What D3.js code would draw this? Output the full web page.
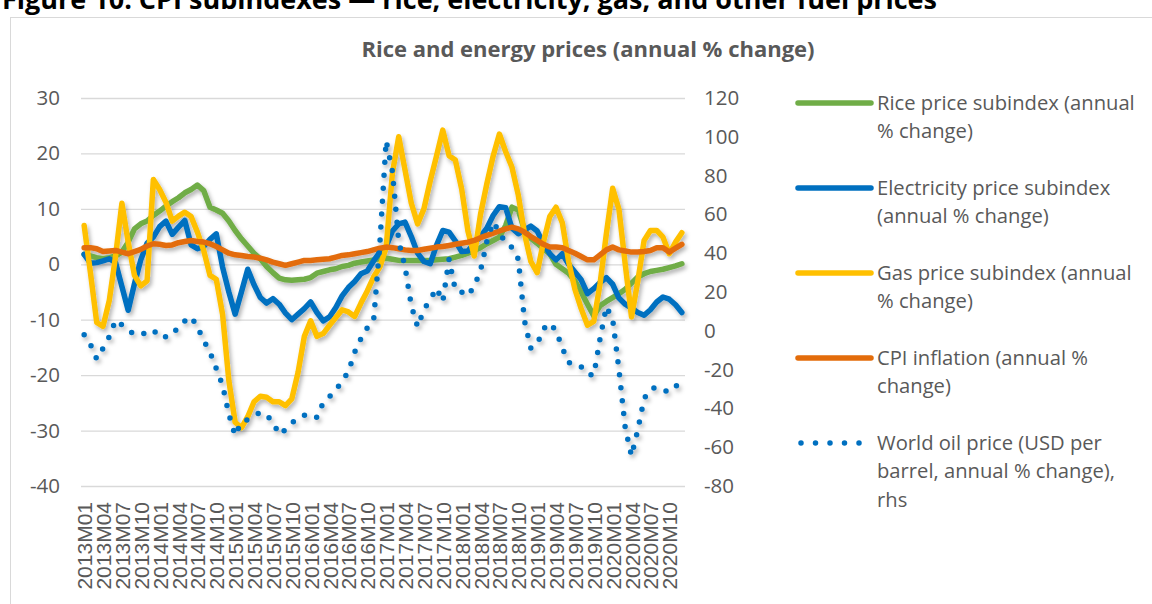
<!DOCTYPE html>
<html>
<head>
<meta charset="utf-8">
<script src="https://cdnjs.cloudflare.com/ajax/libs/d3/7.8.5/d3.min.js"></script>
<style>
  body { margin: 0; background: #fff; }
  text { font-family: "Open Sans", Lato, sans-serif; }
</style>
</head>
<body>
<div id="chart"></div>
<script>

// monthly categories 2013M01 .. 2020M12
const months = d3.range(96).map(i => (2013 + Math.floor(i / 12)) + "M" + String(i % 12 + 1).padStart(2, "0"));

// annual % change, left axis
const rice = [
  1.8, 1.5, 1.2, 1, 1.2, 1.5, 2.2, 4, 6.4, 7.3, 7.8, 8.8,
  9.6, 10.5, 11.3, 12, 12.9, 13.5, 14.3, 13.3, 10.3, 9.8, 9.2, 7.8,
  6.1, 4.6, 3.3, 2, 1, -0.4, -1.5, -2.5, -2.8, -2.9, -2.8, -2.7,
  -2.4, -1.6, -1.3, -1, -0.8, -0.4, -0.2, 0.2, 0.4, 0.6, 0.8, 1,
  1.1, 0.9, 0.7, 0.7, 0.7, 0.7, 0.7, 0.7, 0.8, 0.9, 1, 1.3,
  1.6, 2, 2.5, 3, 3.7, 4.3, 4.9, 7, 10.3, 9.8, 6.1, 4.7,
  3.8, 2.8, 1.9, 0, -0.8, -1.6, -3, -5, -7.2, -9.3, -7.5, -6.7,
  -6, -5.3, -4.5, -3.4, -2.3, -1.7, -1.3, -1.1, -0.9, -0.6, -0.3, 0.1
];
const electricity = [
  1.8, 0.2, 0.3, 0.6, 1, 0.3, -4, -8.3, -3.5, 0.8, 3.8, 4.9,
  6.8, 7.8, 5.4, 6.7, 7.9, 3.5, 2.8, 3.2, 4.5, 5.5, -0.5, -5,
  -9, -5, -0.9, -3.7, -6, -7, -6.2, -7.2, -8.8, -10, -9, -8,
  -6.8, -8.7, -10.2, -9.5, -7.8, -5.7, -4.2, -3.1, -1.7, -1.2, 0.6, 2.2,
  3.2, 6, 7.3, 7.6, 5, 2, 0.5, 0.1, 3.4, 6.1, 5.8, 4.2,
  2.3, 2.4, 3.8, 5, 6.5, 8.8, 10.4, 10.2, 6.5, 5.5, 6.2, 6.9,
  6, 3.7, 1.9, 0.8, 1.9, 0, -1.4, -2.8, -5.3, -4.4, -3.3, -2.4,
  -3.6, -6.1, -7.2, -7.9, -8.7, -9.2, -8.2, -6.8, -5.9, -6.3, -7.3, -8.7
];
const gas = [
  7, -1.5, -10.5, -11.2, -6.5, 1.5, 11, 4, -2, -3.9, -3, 15.3,
  13.5, 11.2, 7.8, 8.7, 9.4, 8.6, 5.8, 2.5, -2, -2.7, -9, -21,
  -28.5, -29.5, -27.5, -24.8, -23.8, -24, -24.8, -24.8, -25.5, -24.3, -19.5, -13,
  -10.2, -13, -12.5, -11, -9.6, -8.2, -8.6, -9.4, -7, -4.8, -2.3, -0.5,
  3, 16.5, 23, 17, 11, 7.3, 10, 15, 19.5, 24.2, 19.6, 18.8,
  13.6, 6, 1.5, 9, 14.5, 19.5, 23.5, 20.3, 17.5, 12.5, 5.5, 0.5,
  -1.5, 4, 8.6, 10.3, 7.5, 0.5, -4.5, -8, -11, -10.3, -3.5, 5.5,
  13.7, 9.9, 0, -9.5, -3, 4.3, 6.1, 6.1, 4.9, 1.9, 4, 5.7
];
const cpi = [
  3, 3, 2.8, 2.3, 2.4, 2.5, 2.2, 1.9, 2.3, 2.7, 3.3, 3.7,
  3.6, 3.4, 3.5, 3.9, 4.1, 4.3, 4.1, 4, 3.7, 3.2, 2.6, 2,
  1.7, 1.6, 1.4, 1.3, 1.1, 0.8, 0.4, 0.1, -0.2, 0.1, 0.4, 0.7,
  0.7, 0.8, 0.9, 1, 1.3, 1.6, 1.7, 1.9, 2.1, 2.3, 2.6, 2.9,
  3.1, 3, 2.8, 2.6, 2.5, 2.5, 2.7, 2.9, 3.1, 3.2, 3.4, 3.6,
  3.8, 4, 4.3, 4.8, 5.2, 5.6, 6, 6.4, 6.7, 6.4, 5.8, 5,
  4.3, 3.6, 3.1, 3.1, 3, 2.5, 2, 1.4, 0.8, 0.8, 1.7, 2.6,
  3.1, 2.6, 2.4, 2.2, 2.2, 2.3, 2.5, 3, 3, 2.2, 2.9, 3.6
];
// world oil price, right axis
const oil = [
  -2, -7, -14.5, -9, -3, 5.5, 3, 0, -1.5, -2.2, -0.5, 0.5,
  -3.4, -3, -2.3, 2.3, 5, 7.3, 2, -5, -11, -19.5, -28, -43,
  -54, -47, -45.8, -44, -42, -43.5, -47, -53.5, -51, -47.5, -45, -43.5,
  -43, -44.7, -37, -34, -30.5, -26, -21, -11, -4, 1.5, 5, 45,
  98, 82, 46, 33, 13, 2, 11, 16, 22, 15, 37, 21,
  20, 18, 23, 31, 46, 56, 51, 45, 43, 37, 5, -9,
  -7, 1, 4, 0, -8.8, -16.4, -16.6, -18.5, -22.3, -23, -4, 12.5,
  6, -20, -50, -64.5, -51, -35, -30, -29, -30.5, -31.5, -29, -24
];

const leftTicks = [30, 20, 10, 0, -10, -20, -30, -40];
const rightTicks = [120, 100, 80, 60, 40, 20, 0, -20, -40, -60, -80];

const seriesNames = [
  ["Rice price subindex (annual", "% change)"],
  ["Electricity price subindex", "(annual % change)"],
  ["Gas price subindex (annual", "% change)"],
  ["CPI inflation (annual %", "change)"],
  ["World oil price (USD per", "barrel, annual % change),", "rhs"]
];
const seriesColors = ["#70ad47", "#0070c0", "#ffc000", "#e36c0a", "#0070c0"];

const width = 1152, height = 604;
const plot = {left: 81, right: 685, top: 98, bottom: 486};

let svg = d3.select("#chart")
            .append("svg")
                .attr("width", width)
                .attr("height", height);

// soft shadow under the lines like the original
let filter = svg.append("defs").append("filter")
    .attr("id", "shadow")
    .attr("filterUnits", "userSpaceOnUse")
    .attr("x", 0).attr("y", 0).attr("width", width).attr("height", height);
filter.append("feDropShadow")
    .attr("dx", 2).attr("dy", 3).attr("stdDeviation", 2)
    .attr("flood-color", "#000").attr("flood-opacity", 0.3);

// page title (cut at the top)
svg.append("text")
    .attr("x", 2).attr("y", 9)
    .style("font-size", "27px").style("font-weight", "bold")
    .attr("fill", "#000")
    .text("Figure 10: CPI subindexes — rice, electricity, gas, and other fuel prices");

// chart frame
svg.append("rect")
    .attr("x", 10.5).attr("y", 17.5)
    .attr("width", 1200).attr("height", 700)
    .attr("fill", "#fff").attr("stroke", "#d9d9d9");

svg.append("text")
    .attr("x", 588).attr("y", 57)
    .attr("text-anchor", "middle")
    .style("font-size", "22px").style("font-weight", "bold")
    .attr("fill", "#595959")
    .text("Rice and energy prices (annual % change)");

let x = d3.scalePoint().domain(months).range([plot.left, plot.right]).padding(0.5);
let yL = d3.scaleLinear().domain([-40, 30]).range([plot.bottom, plot.top]);
let yR = d3.scaleLinear().domain([-80, 120]).range([plot.bottom, plot.top]);

// gridlines
svg.append("g").selectAll("line").data(leftTicks).enter()
    .append("line")
        .attr("x1", plot.left).attr("x2", plot.right)
        .attr("y1", d => yL(d) + 0.5).attr("y2", d => yL(d) + 0.5)
        .attr("stroke", "#d9d9d9").attr("stroke-width", 1.3);

// left axis
let leftAxis = svg.append("g")
    .attr("transform", "translate(" + (plot.left - 21) + ",0)")
    .call(d3.axisLeft(yL).tickValues(leftTicks).tickSize(0).tickPadding(0).tickFormat(d => String(d)));
leftAxis.select(".domain").remove();

// right axis
let rightAxis = svg.append("g")
    .attr("transform", "translate(" + (plot.right + 19) + ",0)")
    .call(d3.axisRight(yR).tickValues(rightTicks).tickSize(0).tickPadding(0).tickFormat(d => String(d)));
rightAxis.select(".domain").remove();

svg.selectAll(".tick text")
    .attr("fill", "#595959")
    .style("font-size", "20.5px")
    .style("font-family", "'Open Sans', Lato, sans-serif");

// category axis, every 3rd month
let bottomAxis = svg.append("g")
    .attr("transform", "translate(0," + (plot.bottom + 16) + ")")
    .call(d3.axisBottom(x).tickValues(months.filter((d, i) => i % 3 === 0)).tickSize(0).tickPadding(0));
bottomAxis.select(".domain").remove();
bottomAxis.selectAll("text")
    .attr("transform", "rotate(-90)")
    .attr("x", 0).attr("y", 0).attr("dy", "0.36em")
    .attr("text-anchor", "end")
    .attr("fill", "#595959")
    .style("font-size", "21px")
    .style("font-family", "'Liberation Sans', Arial, sans-serif");

// series
let lineL = d3.line().x((d, i) => x(months[i])).y(d => yL(d));
let lineR = d3.line().x((d, i) => x(months[i])).y(d => yR(d));

let lines = svg.append("g").attr("filter", "url(#shadow)");
[rice, electricity, gas, cpi].forEach((s, k) => {
    lines.append("path")
        .datum(s)
        .attr("d", lineL)
        .attr("fill", "none")
        .attr("stroke", seriesColors[k])
        .attr("stroke-width", 5.5)
        .attr("stroke-linejoin", "round")
        .attr("stroke-linecap", "round");
});
lines.append("path")
    .datum(oil)
    .attr("d", lineR)
    .attr("fill", "none")
    .attr("stroke", seriesColors[4])
    .attr("stroke-width", 5.5)
    .attr("stroke-dasharray", "0,13")
    .attr("stroke-linecap", "round");

// legend
let legend = svg.append("g").attr("transform", "translate(798,103)");
seriesNames.forEach((lines, k) => {
    let item = legend.append("g").attr("transform", "translate(0," + (k * 85) + ")");
    item.append("line")
        .attr("x1", k === 4 ? 3 : 0).attr("x2", 73)
        .attr("y1", 0).attr("y2", 0)
        .attr("stroke", seriesColors[k])
        .attr("stroke-width", 5.5)
        .attr("stroke-linecap", "round")
        .attr("stroke-dasharray", k === 4 ? "0,14.5" : null);
    let t = item.append("text")
        .attr("x", 79).attr("y", 0)
        .attr("fill", "#595959")
        .style("font-size", "20.2px");
    lines.forEach((l, j) => {
        t.append("tspan").attr("x", 79).attr("dy", j === 0 ? "0.35em" : 28.3).text(l);
    });
});

</script>
</body>
</html>
